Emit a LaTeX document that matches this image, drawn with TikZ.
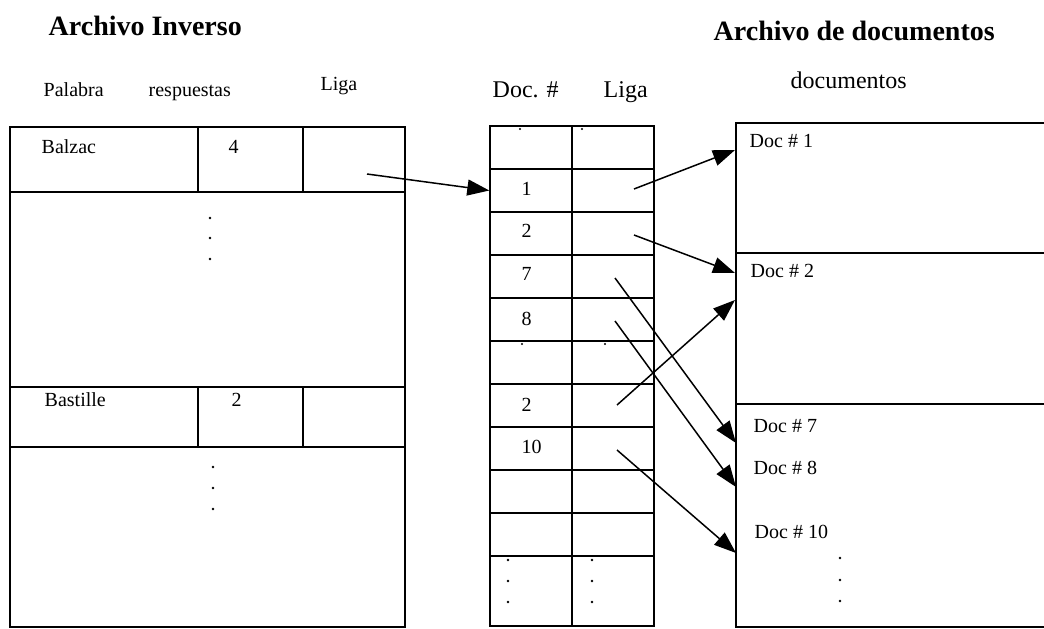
\documentclass[tikz,border=0pt]{standalone}
\usepackage{fontspec}
\setmainfont{Liberation Serif}
\usetikzlibrary{arrows.meta,positioning}
\tikzset{txt/.style={anchor=base west,inner sep=0pt,font=\fontsize{20}{24}\selectfont},hd/.style={txt,font=\fontsize{24}{28}\selectfont},ttl/.style={txt,font=\fontsize{28}{32}\selectfont\bfseries},cell/.style={draw,rectangle,minimum width=82pt,minimum height=43pt,inner sep=0pt},dt/.style={circle,fill,inner sep=0pt,minimum size=2.8pt},arr/.style={-{Triangle[length=22pt,width=16pt]},line width=1.5pt}}

\begin{document}
\begin{tikzpicture}[x=1pt,y=-1pt,line width=1.4pt]
\useasboundingbox(0,0)rectangle(1044,629);
% titulos
\node[ttl](tinv)at(48,35){Archivo Inverso};
\node[ttl](tdoc)at(713,40){Archivo de documentos};
\node[txt](hpal)at(43,96){Palabra};\node[txt](hres)at(148,96){respuestas};\node[txt](hlig)at(320,90){Liga};
\node[hd](hnum)at(492,97){Doc. \#};\node[hd](hlig2)at(603,97){Liga};
\node[hd](hdocs)at(790,88){documentos};
% archivo inverso
\node[draw,minimum width=395pt,minimum height=500pt](inv)at(207.5,377){};
\node[draw,minimum width=188pt,minimum height=65pt](p1)at(104,159.5){};
\node[draw,minimum width=105pt,minimum height=65pt](r1)at(250.5,159.5){};
\node[draw,minimum width=102pt,minimum height=65pt](g1)at(354,159.5){};
\node[draw,minimum width=188pt,minimum height=60pt](p2)at(104,417){};
\node[draw,minimum width=105pt,minimum height=60pt](r2)at(250.5,417){};
\node[draw,minimum width=102pt,minimum height=60pt](g2)at(354,417){};
\node[txt]at(41,153){Balzac};\node[txt]at(228,153){4};
\node[txt]at(44,406){Bastille};\node[txt]at(231,406){2};
\foreach\y in{218,238,259}\node[dt]at(210,\y){};
\foreach\y in{467,488,509}\node[dt]at(213,\y){};
% tabla de liga
\foreach\r in{1,...,10}{\node[cell](d\r)at(531,{126+43*(\r-0.5)}){};\node[cell](l\r)at(613,{126+43*(\r-0.5)}){};}
\node[cell,minimum height=70pt](d11)at(531,591){};\node[cell,minimum height=70pt](l11)at(613,591){};
\foreach\n/\y in{1/195,2/237,7/280,8/325,2/411,10/453}\node[txt]at(521,\y){\n};
\foreach\y in{560,581,602}{\node[dt]at(508,\y){};\node[dt]at(592,\y){};}
\foreach\p in{(520,129),(582,129),(522,344),(605,344)}\node[dt,minimum size=2.2pt]at\p{};
% archivo de documentos
\draw(1044,123)--(736,123)--(736,627)--(1044,627);
\draw(736,253)--(1044,253);\draw(736,404)--(1044,404);
\node[txt]at(749,147){Doc \# 1};\node[txt]at(750,277){Doc \# 2};
\node[txt]at(753,432){Doc \# 7};\node[txt]at(753,474){Doc \# 8};\node[txt]at(754,538){Doc \# 10};
\foreach\y in{558,580,601}\node[dt]at(840,\y){};
% ligas
\coordinate(s0)at(367,174);\coordinate(s1)at(634,189);\coordinate(s2)at(634,235);\coordinate(s3)at(615,278);
\coordinate(s4)at(615,321);\coordinate(s5)at(617,405);\coordinate(s6)at(617,450);
\coordinate(t1)at(735,150);\coordinate(t2)at(735,273);\coordinate(t3)at(736,443);
\coordinate(t4)at(736,487);\coordinate(t5)at(735,300);\coordinate(t6)at(736,553);
\draw[arr](s0)--(d2.west);
\foreach\a/\b in{s1/t1,s2/t2,s3/t3,s4/t4,s5/t5,s6/t6}\draw[arr](\a)--(\b);
\end{tikzpicture}
\end{document}
